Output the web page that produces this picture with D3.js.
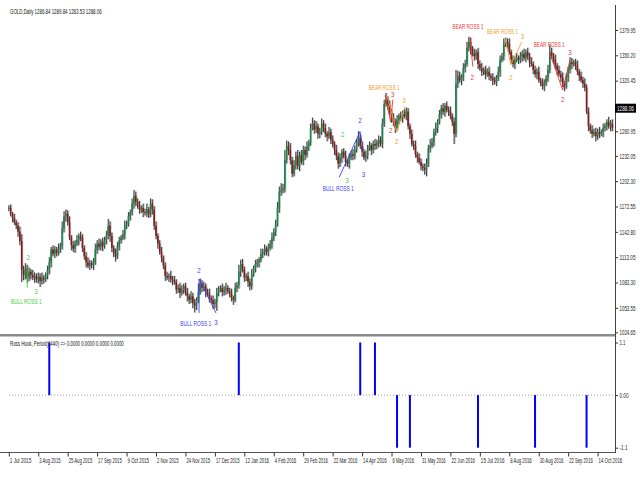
<!DOCTYPE html>
<html>
<head>
<meta charset="utf-8">
<script src="https://cdn.jsdelivr.net/npm/d3@7"></script>
<style>
    body { margin: 0; background: #fff; }
    svg text { font-family: "Liberation Sans", Arial, sans-serif; }
</style>
</head>
<body>
<div id="chart-area"></div>
<script>

// Daily closes of GOLD (one value per bar)
const closes = [
    1171,1164,1159,1154,1150,1143,1132,1098,1092,1100,
    1089,1096,1092,1089,1091,1087,1090,1085,1089,1087,
    1091,1098,1107,1122,1117,1122,1118,1123,1126,1147,
    1161,1164,1154,1136,1127,1123,1129,1133,1138,1136,
    1124,1114,1107,1103,1106,1104,1107,1122,1129,1125,
    1131,1126,1133,1138,1150,1138,1124,1117,1114,1126,
    1133,1136,1140,1150,1152,1161,1166,1176,1185,1178,
    1173,1169,1171,1166,1165,1169,1163,1176,1169,1150,
    1138,1129,1119,1112,1103,1091,1089,1091,1087,1086,
    1084,1075,1077,1071,1075,1079,1072,1067,1063,1067,
    1059,1056,1063,1072,1082,1077,1079,1072,1070,1065,
    1063,1058,1060,1071,1075,1077,1072,1075,1077,1073,
    1071,1065,1063,1077,1080,1096,1105,1098,1089,1091,
    1084,1079,1093,1100,1105,1107,1110,1117,1119,1123,
    1119,1124,1129,1136,1143,1152,1171,1190,1192,1194,
    1227,1244,1239,1227,1211,1221,1232,1220,1233,1225,
    1239,1233,1243,1248,1265,1270,1263,1267,1258,1260,
    1270,1265,1258,1255,1260,1251,1246,1239,1232,1223,
    1230,1237,1232,1225,1223,1230,1234,1232,1239,1248,
    1253,1244,1237,1230,1232,1241,1244,1239,1246,1244,
    1248,1251,1246,1270,1293,1298,1291,1284,1277,1272,
    1265,1274,1279,1277,1281,1279,1284,1267,1258,1246,
    1244,1234,1230,1225,1220,1218,1216,1223,1241,1244,
    1248,1260,1265,1272,1281,1288,1284,1291,1286,1284,
    1279,1272,1258,1317,1326,1321,1324,1335,1340,1359,
    1366,1357,1352,1349,1354,1340,1335,1331,1333,1328,
    1331,1326,1324,1321,1319,1324,1331,1345,1349,1364,
    1366,1364,1354,1345,1340,1345,1347,1345,1349,1352,
    1347,1354,1349,1342,1340,1333,1328,1331,1321,1319,
    1314,1317,1324,1333,1354,1349,1345,1338,1333,1328,
    1324,1317,1314,1324,1333,1342,1340,1342,1338,1331,
    1326,1321,1317,1312,1284,1267,1262,1258,1260,1255,
    1260,1258,1260,1265,1267,1272,1267,1270,1265
];

// Wick lengths above / below the body (in $)
const upperWick = [
    3,4,2,5,3,4,6,8,5,6, 4,5,3,6,4,3,5,4,6,3, 4,5,6,3,5,4,3,6,4,8,
    6,5,4,7,3,5,4,6,3,5, 4,3,5,6,4,3,5,7,4,6, 3,5,4,6,8,5,4,3,6,5,
    4,3,5,6,4,5,3,6,7,5, 4,6,3,5,4,7,3,6,5,4, 5,3,4,6,3,4,5,3,6,4,
    5,3,4,6,5,3,4,5,3,6, 4,5,3,10,6,4,5,3,4,6, 3,5,4,6,4,3,5,4,6,3,
    4,5,3,6,4,8,5,6,4,3, 5,4,6,3,5,4,3,6,4,5, 3,5,4,6,4,5,7,6,8,5,
    12,6,5,8,4,6,5,7,4,6, 5,4,6,3,5,7,4,6,3,5, 6,4,5,3,6,4,5,3,6,4,
    5,3,4,6,3,5,4,6,5,4, 8,4,5,3,6,4,5,3,4,6, 3,5,4,6,5,8,4,6,3,5,
    4,6,3,5,4,6,5,4,3,5, 4,6,3,5,4,3,5,6,4,8, 5,4,6,3,5,4,6,3,5,4,
    6,3,5,16,6,5,4,6,5,7, 6,5,4,6,3,5,4,6,3,5, 4,6,3,5,4,3,6,5,4,6,
    5,4,6,3,5,4,6,3,5,4, 6,3,5,4,6,3,5,4,6,3, 4,5,3,6,8,5,4,6,3,5,
    4,6,3,5,4,6,5,3,4,6, 3,5,4,6,4,5,3,6,4,5, 4,6,3,5,4,3,6,4,5
];
const lowerWick = [
    4,3,5,3,4,6,5,14,6,5, 6,4,5,3,6,4,5,7,4,5, 3,4,5,6,3,5,4,3,5,4,
    5,6,4,3,6,4,5,3,6,4, 5,4,6,3,5,4,6,3,5,4, 4,6,3,5,4,7,5,4,6,3,
    5,4,3,6,4,3,5,4,6,5, 3,5,4,6,3,5,4,3,6,5, 4,6,3,5,4,6,3,5,4,6,
    3,5,4,6,3,5,4,6,5,4, 6,8,5,4,3,5,4,6,3,5, 4,6,5,10,4,3,5,4,6,3,
    5,4,6,3,5,4,6,3,5,4, 6,5,4,3,5,4,6,3,5,4, 4,5,3,6,4,5,3,6,5,4,
    5,4,6,5,4,3,5,4,6,3, 4,6,3,5,4,3,5,4,6,5, 3,5,4,6,3,5,4,6,5,6,
    4,6,3,5,4,6,3,5,4,3, 5,4,6,3,5,4,3,6,4,5, 4,6,3,5,4,3,5,4,6,5,
    6,3,5,4,6,3,5,4,6,3, 5,4,6,3,5,4,6,8,4,5, 3,5,4,6,3,5,4,6,3,5,
    4,5,12,4,5,3,6,4,5,3, 4,6,3,5,4,6,3,5,4,6, 3,5,4,6,3,5,4,6,3,5,
    4,6,3,5,4,6,3,5,4,6, 3,5,4,6,3,5,4,6,3,5, 4,6,3,5,4,3,5,4,6,3,
    5,4,6,3,5,4,6,3,5,4, 6,3,5,4,3,6,4,5,3,6, 4,5,3,6,4,5,3,6,4
];

// Header values (last bar O H L C) and the current price box
const lastOHLC = [1286.84, 1289.84, 1283.53, 1288.06];
const lastPrice = 1288.06;

// Axis ticks
const priceTicks = [1379.95, 1350.20, 1320.45, 1260.95, 1232.05, 1202.30, 1172.55,
    1142.80, 1113.05, 1083.30, 1053.55, 1024.65];
const dateTickIndex = [0,16,32,48,64,80,96,112,128,144,160,176,192,208,224,240,256,272,288,304,320];
const dateLabels = ["1 Jul 2015","3 Aug 2015","25 Aug 2015","17 Sep 2015","9 Oct 2015",
    "2 Nov 2015","24 Nov 2015","17 Dec 2015","12 Jan 2016","4 Feb 2016","29 Feb 2016",
    "22 Mar 2016","14 Apr 2016","6 May 2016","31 May 2016","22 Jun 2016","15 Jul 2016",
    "8 Aug 2016","30 Aug 2016","22 Sep 2016","14 Oct 2016"];
const indicatorTicks = [1.1, 0, -1.1];

// Ross Hook signals (bar index, value)
const signalBars = [22, 125, 191, 199, 211, 218, 255, 286, 314];
const signalValues = [1.1, 1.1, 1.1, 1.1, -1.1, -1.1, -1.1, -1.1, -1.1];

const GREEN = "#3ccf3c", BLUE = "#3a3aff", ORANGE = "#f0a030", RED = "#ee3333";

// Ross Hook labels: text, bar index, price
const hookLabels = [
    {t: "2", i: 10.6, p: 1113, c: GREEN},
    {t: "3", i: 14.8, p: 1073, c: GREEN},
    {t: "BULL ROSS 1", i: 9.5, p: 1061, c: GREEN},
    {t: "2", i: 103.4, p: 1098, c: BLUE},
    {t: "BULL ROSS 1", i: 101.6, p: 1036, c: BLUE},
    {t: "3", i: 112.6, p: 1037, c: BLUE},
    {t: "2", i: 181.5, p: 1257, c: GREEN},
    {t: "3", i: 183.8, p: 1203, c: GREEN},
    {t: "2", i: 190.9, p: 1274, c: BLUE},
    {t: "3", i: 192.7, p: 1211, c: BLUE},
    {t: "BULL ROSS 1", i: 179, p: 1194, c: BLUE},
    {t: "BEAR ROSS 1", i: 204.0, p: 1313, c: ORANGE},
    {t: "3", i: 208.6, p: 1305, c: RED},
    {t: "2", i: 207.5, p: 1262, c: RED},
    {t: "3", i: 214.8, p: 1297, c: ORANGE},
    {t: "2", i: 210.8, p: 1249, c: ORANGE},
    {t: "BEAR ROSS 1", i: 249.6, p: 1385, c: RED},
    {t: "2", i: 251.9, p: 1325, c: RED},
    {t: "BEAR ROSS 1", i: 268.3, p: 1379, c: ORANGE},
    {t: "3", i: 279.1, p: 1373, c: ORANGE},
    {t: "2", i: 272.9, p: 1324, c: ORANGE},
    {t: "BEAR ROSS 1", i: 293.7, p: 1364, c: RED},
    {t: "3", i: 305.0, p: 1354, c: RED},
    {t: "2", i: 301.0, p: 1299, c: RED}
];

// Zigzag lines joining the hook points: [bar index, price]
const hookLines = [
    {c: GREEN, pts: [[10.05, 1077], [10.05, 1101]]},
    {c: BLUE, pts: [[103.4, 1047.5], [103.4, 1087.4], [112.6, 1047.5]]},
    {c: BLUE, pts: [[179.6, 1207], [190.9, 1260.5], [192.7, 1239]]},
    {c: RED, pts: [[204.5, 1303], [207.5, 1272], [208.7, 1298]]},
    {c: ORANGE, pts: [[205.7, 1302], [210.8, 1260], [215.3, 1290]]},
    {c: RED, pts: [[250.6, 1370], [252.2, 1337]]},
    {c: ORANGE, pts: [[269.7, 1370], [272.9, 1339], [278.7, 1366]]},
    {c: RED, pts: [[293.8, 1354.5], [301.0, 1309.5], [305.0, 1344.8]]}
];


// squeeze text horizontally to a given width (the screenshot is narrow)
function squeeze(selection, widthFn) {
    selection.each(function (d, k) {
        let t = d3.select(this);
        let w = this.getComputedTextLength();
        let target = typeof widthFn === "function" ? widthFn(d, k) : widthFn;
        let tx = +t.attr("x") || 0, ty = +t.attr("y") || 0;
        t.attr("x", 0).attr("y", 0)
            .attr("transform", "translate(" + tx + "," + ty + ") scale(" + (target / w) + ",1)");
    });
}


class CandleChart {

    constructor(parentElement) {
        this.parentElement = parentElement;
        this.displayData = [];
        this.initVis();
    }

    initVis() {
        let vis = this;

        vis.width = 640;
        vis.height = 480;
        vis.axisX = 615;

        vis.svg = d3.select("#" + vis.parentElement).append("svg")
            .attr("width", vis.width)
            .attr("height", vis.height);

        // bar index -> x, 1.84 px per bar
        vis.x = d3.scaleLinear()
            .domain([0, closes.length - 1])
            .range([8.8, 8.8 + (closes.length - 1) * 1.84]);

        vis.y = d3.scaleLinear()
            .domain([1024.65, 1379.95])
            .range([332.4, 30]);

        vis.yInd = d3.scaleLinear()
            .domain([-1.1, 1.1])
            .range([447.7, 342.5]);

        vis.wrangleData();
    }

    wrangleData() {
        let vis = this;

        // open taken from the previous close
        vis.displayData = closes.map((c, i) => {
            let o = i > 0 ? closes[i - 1] : c;
            return {
                i: i, open: o, close: c,
                high: Math.max(o, c) + upperWick[i],
                low: Math.min(o, c) - lowerWick[i]
            };
        });

        vis.updateVis();
    }

    updateVis() {
        let vis = this;

        // Pane frames
        vis.svg.append("rect")
            .attr("x", 0).attr("y", 334)
            .attr("width", vis.axisX).attr("height", 2.5)
            .attr("fill", "#8a8a8a");

        vis.svg.append("line")
            .attr("x1", 0).attr("x2", vis.axisX)
            .attr("y1", 452.5).attr("y2", 452.5)
            .attr("stroke", "#555");

        vis.svg.append("line")
            .attr("x1", vis.axisX + 0.5).attr("x2", vis.axisX + 0.5)
            .attr("y1", 5).attr("y2", 453)
            .attr("stroke", "#444");

        // Candles
        let candles = vis.svg.append("g").attr("class", "candles")
            .selectAll("g")
            .data(vis.displayData)
            .join("g");

        candles.append("rect")
            .attr("x", d => vis.x(d.i) - 0.2)
            .attr("y", d => vis.y(d.high))
            .attr("width", 1.8)
            .attr("height", d => vis.y(d.low) - vis.y(d.high))
            .attr("fill", "#cdcdcd");

        candles.append("line")
            .attr("x1", d => vis.x(d.i)).attr("x2", d => vis.x(d.i))
            .attr("y1", d => vis.y(d.high))
            .attr("y2", d => vis.y(d.low))
            .attr("stroke", "#111")
            .attr("stroke-width", 0.8);

        candles.append("rect")
            .attr("x", d => vis.x(d.i) - 0.8)
            .attr("y", d => vis.y(Math.max(d.open, d.close)))
            .attr("width", 1.6)
            .attr("height", d => Math.max(0.8, Math.abs(vis.y(d.open) - vis.y(d.close))))
            .attr("fill", d => d.close >= d.open ? "#1a8549" : "#8a1818");

        // Ross Hook zigzags and labels
        let line = d3.line()
            .x(d => vis.x(d[0]))
            .y(d => vis.y(d[1]));

        vis.svg.append("g").selectAll("path")
            .data(hookLines)
            .join("path")
            .attr("d", d => line(d.pts))
            .attr("fill", "none")
            .attr("stroke", d => d.c)
            .attr("stroke-width", 0.9);

        vis.svg.append("g").attr("class", "hooks").selectAll("text")
            .data(hookLabels)
            .join("text")
            .attr("x", d => vis.x(d.i))
            .attr("y", d => vis.y(d.p))
            .attr("text-anchor", "middle")
            .attr("dominant-baseline", "central")
            .attr("font-size", 7.5)
            .attr("fill", d => d.c)
            .text(d => d.t)
            .call(squeeze, d => d.t.length > 1 ? 31 : 3.4);

        // Indicator: zero level and signal bars
        vis.svg.append("line")
            .attr("x1", 9).attr("x2", vis.axisX)
            .attr("y1", vis.yInd(0)).attr("y2", vis.yInd(0))
            .attr("stroke", "#999")
            .attr("stroke-dasharray", "1,2");

        vis.svg.append("g").selectAll("rect")
            .data(signalBars)
            .join("rect")
            .attr("x", d => vis.x(d) - 1)
            .attr("width", 2)
            .attr("y", (d, k) => Math.min(vis.yInd(0), vis.yInd(signalValues[k])))
            .attr("height", (d, k) => Math.abs(vis.yInd(signalValues[k]) - vis.yInd(0)))
            .attr("fill", "#0000ff");

        // Axes
        let priceAxis = d3.axisRight(vis.y)
            .tickValues(priceTicks)
            .tickFormat(d3.format(".2f"))
            .tickSize(3)
            .tickPadding(1.5);

        let indAxis = d3.axisRight(vis.yInd)
            .tickValues(indicatorTicks)
            .tickFormat(d => d === 0 ? "0.00" : String(d))
            .tickSize(3)
            .tickPadding(1.5);

        let dateAxis = d3.axisBottom(vis.x)
            .tickValues(dateTickIndex)
            .tickFormat((d, k) => dateLabels[k])
            .tickSize(4)
            .tickPadding(2);

        vis.svg.append("g")
            .attr("class", "y-axis axis")
            .attr("transform", "translate(" + vis.axisX + ",0)")
            .call(priceAxis);

        vis.svg.append("g")
            .attr("class", "ind-axis axis")
            .attr("transform", "translate(" + vis.axisX + ",0)")
            .call(indAxis);

        vis.svg.append("g")
            .attr("class", "x-axis axis")
            .attr("transform", "translate(0,452.5)")
            .call(dateAxis);

        vis.svg.selectAll(".axis .domain").remove();
        vis.svg.selectAll(".axis")
            .attr("font-family", null)
            .attr("font-size", 7);
        vis.svg.selectAll(".axis line").attr("stroke", "#333");
        vis.svg.selectAll(".axis text").attr("fill", "#222");
        vis.svg.selectAll(".y-axis text").call(squeeze, 16);
        vis.svg.selectAll(".ind-axis text").call(squeeze, d => d === 0 ? 9 : (d < 0 ? 8 : 6));
        vis.svg.selectAll(".x-axis text")
            .attr("text-anchor", "start")
            .attr("x", 0.5)
            .call(squeeze, (d, k) => dateLabels[k].length * 2.15);

        // Current price box
        vis.svg.append("rect")
            .attr("x", vis.axisX).attr("y", vis.y(lastPrice) - 4.5)
            .attr("width", 21).attr("height", 9)
            .attr("fill", "#000");

        vis.svg.append("text")
            .attr("x", vis.axisX + 2).attr("y", vis.y(lastPrice) + 2.5)
            .attr("font-size", 7)
            .attr("fill", "#fff")
            .text(d3.format(".2f")(lastPrice))
            .call(squeeze, 17);

        // Pane titles
        vis.svg.append("text")
            .attr("x", 10).attr("y", 14)
            .attr("font-size", 7.5)
            .attr("fill", "#111")
            .text("GOLD,Daily  " + lastOHLC.map(d3.format(".2f")).join(" "))
            .call(squeeze, 92);

        vis.svg.append("text")
            .attr("x", 10).attr("y", 345.5)
            .attr("font-size", 7)
            .attr("fill", "#111")
            .text("Ross Hook, Period(1440) =>  0.0000 0.0000 0.0000 0.0000")
            .call(squeeze, 114);
    }
}

new CandleChart("chart-area");

</script>
</body>
</html>
